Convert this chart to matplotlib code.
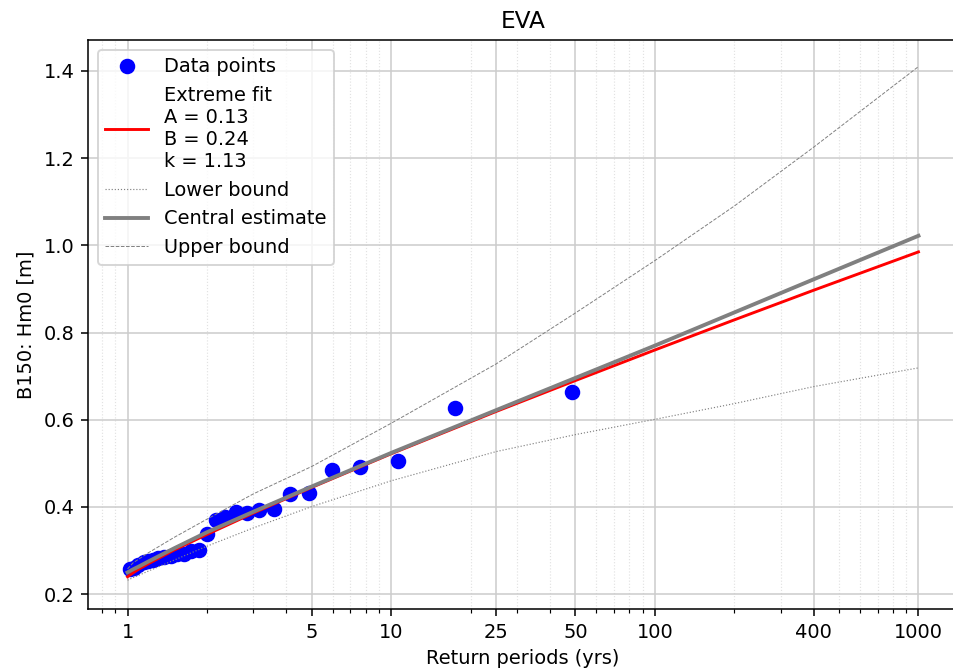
import matplotlib
matplotlib.use("Agg")
import matplotlib.pyplot as plt
from matplotlib.ticker import FixedLocator, FixedFormatter, LogLocator, NullFormatter

# Data points (return period in years, Hm0 in m)
rp_data = [48.4, 17.4, 10.6, 7.62, 5.95, 4.88, 4.13, 3.58, 3.16, 2.83, 2.57, 2.35, 2.16, 2.00,
           1.87, 1.74, 1.64, 1.54, 1.46, 1.38, 1.31, 1.25, 1.20, 1.15, 1.10, 1.06, 1.02]
hm0_data = [0.664, 0.627, 0.505, 0.491, 0.485, 0.431, 0.429, 0.395, 0.393, 0.387, 0.389, 0.376, 0.371, 0.337,
            0.302, 0.298, 0.293, 0.291, 0.288, 0.285, 0.282, 0.279, 0.277, 0.273, 0.266, 0.261, 0.257]

rp_curve = [1, 1.05, 1.1, 1.2, 1.5, 2, 3, 5, 10, 25, 50, 100, 200, 400, 1000]
fit = [0.240, 0.249, 0.257, 0.270, 0.301, 0.337, 0.386, 0.445, 0.522, 0.619, 0.690, 0.760, 0.829, 0.897, 0.985]
central = [0.250, 0.257, 0.263, 0.275, 0.305, 0.342, 0.389, 0.447, 0.524, 0.622, 0.696, 0.770, 0.846, 0.922, 1.022]
lower = [0.232, 0.238, 0.243, 0.253, 0.278, 0.310, 0.352, 0.401, 0.460, 0.527, 0.566, 0.601, 0.637, 0.676, 0.719]
upper = [0.258, 0.272, 0.280, 0.295, 0.330, 0.372, 0.430, 0.493, 0.592, 0.728, 0.845, 0.965, 1.090, 1.225, 1.410]

fit_label = "Extreme fit\nA = 0.13\nB = 0.24\nk = 1.13"
x_ticks = [1, 5, 10, 25, 50, 100, 400, 1000]
y_ticks = [0.2, 0.4, 0.6, 0.8, 1.0, 1.2, 1.4]

dpi = 139.5
fig = plt.figure(figsize=(953 / dpi, 671 / dpi), dpi=dpi)
ax = fig.add_axes([88 / 953, 62 / 671, 870 / 953, 569 / 671])

ax.plot(rp_data, hm0_data, "o", color="blue", markersize=7, label="Data points")
ax.plot(rp_curve, fit, color="red", lw=1.5, label=fit_label)
ax.plot(rp_curve, lower, ls=":", color="gray", lw=0.6, label="Lower bound")
ax.plot(rp_curve, central, color="gray", lw=2, label="Central estimate")
ax.plot(rp_curve, upper, ls="--", color="gray", lw=0.5, label="Upper bound")

ax.set_xscale("log")
ax.set_xlim(10 ** -0.15, 10 ** 3.15)
ax.set_ylim(0.166, 1.471)

ax.xaxis.set_major_locator(FixedLocator(x_ticks))
ax.xaxis.set_major_formatter(FixedFormatter([str(t) for t in x_ticks]))
ax.xaxis.set_minor_locator(LogLocator(base=10, subs=range(2, 10), numticks=20))
ax.xaxis.set_minor_formatter(NullFormatter())
ax.set_yticks(y_ticks)

ax.grid(True, which="major", color="#cccccc", lw=0.8)
ax.grid(True, which="minor", axis="x", color="#e2e2e2", ls=":", lw=0.6)
ax.set_axisbelow(True)

ax.set_title("EVA")
ax.set_xlabel("Return periods (yrs)")
ax.set_ylabel("B150: Hm0 [m]")

ax.legend(loc="upper left", handlelength=2.2)

fig.savefig("out.png", dpi=dpi)
